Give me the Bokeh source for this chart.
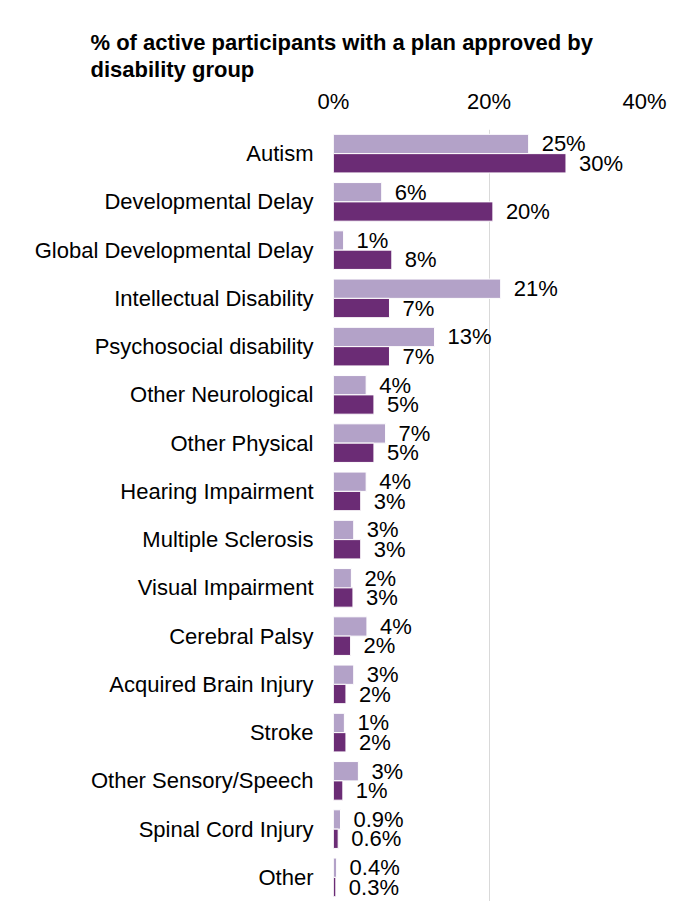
from bokeh.plotting import figure
from bokeh.models import ColumnDataSource, FactorRange, Range1d, FixedTicker, LinearAxis
from bokeh.transform import dodge
from bokeh.core.properties import value
from bokeh.embed import file_html
from bokeh.resources import INLINE

categories = [
    "Autism", "Developmental Delay", "Global Developmental Delay",
    "Intellectual Disability", "Psychosocial disability", "Other Neurological",
    "Other Physical", "Hearing Impairment", "Multiple Sclerosis",
    "Visual Impairment", "Cerebral Palsy", "Acquired Brain Injury", "Stroke",
    "Other Sensory/Speech", "Spinal Cord Injury", "Other",
]
light_values = [25.1, 6.2, 1.3, 21.5, 13.0, 4.2, 6.7, 4.2, 2.6, 2.3, 4.3, 2.6, 1.4, 3.2, 0.9, 0.4]
dark_values = [29.9, 20.5, 7.5, 7.2, 7.2, 5.2, 5.2, 3.5, 3.5, 2.5, 2.2, 1.6, 1.6, 1.2, 0.6, 0.3]
light_labels = ["25%", "6%", "1%", "21%", "13%", "4%", "7%", "4%", "3%", "2%", "4%", "3%", "1%", "3%", "0.9%", "0.4%"]
dark_labels = ["30%", "20%", "8%", "7%", "7%", "5%", "5%", "3%", "3%", "3%", "2%", "2%", "2%", "1%", "0.6%", "0.3%"]
x_ticks = [0, 20, 40]
x_tick_labels = ["0%", "20%", "40%"]
title_text = "% of active participants with a plan approved by\ndisability group"

LIGHT = "#B3A2C8"
DARK = "#6B2C75"
FONT = "Liberation Sans"

W, H = 689, 901
LEFT = 333

source = ColumnDataSource(data=dict(
    cat=categories, light=light_values, dark=dark_values,
    light_lab=light_labels, dark_lab=dark_labels,
))

p = figure(
    y_range=FactorRange(factors=categories[::-1]),
    x_range=Range1d(0, 40),
    width=W, height=H,
    output_backend="svg", toolbar_location=None,
    x_axis_location="above",
    min_border_left=LEFT, min_border_right=45,
    min_border_top=129, min_border_bottom=0,
)

p.hbar(y=dodge("cat", 0.2, range=p.y_range), right="light", left=0, height=0.4,
       source=source, fill_color=LIGHT, line_color="white", line_width=1)
p.hbar(y=dodge("cat", -0.2, range=p.y_range), right="dark", left=0, height=0.4,
       source=source, fill_color=DARK, line_color="white", line_width=1)

p.text(x="light", y=dodge("cat", 0.2, range=p.y_range), text="light_lab", source=source,
       x_offset=13, text_baseline="middle", text_align="left",
       text_font=value(FONT), text_font_size="22px", text_color="#000000")
p.text(x="dark", y=dodge("cat", -0.2, range=p.y_range), text="dark_lab", source=source,
       x_offset=13, text_baseline="middle", text_align="left",
       text_font=value(FONT), text_font_size="22px", text_color="#000000")

# title
p.title.text = title_text
p.title.align = "left"
p.title.offset = 90 - LEFT
p.title.text_font = FONT
p.title.text_font_size = "22px"
p.title.text_font_style = "bold"
p.title.text_color = "#000000"
p.title.text_line_height = 1.08
p.title.standoff = 8

# x axis (top)
xa = p.xaxis[0]
xa.ticker = FixedTicker(ticks=x_ticks)
xa.major_label_overrides = {t: l for t, l in zip(x_ticks, x_tick_labels)}
xa.axis_line_color = None
xa.major_tick_line_color = None
xa.minor_tick_line_color = None
xa.major_label_text_font = FONT
xa.major_label_text_font_size = "22px"
xa.major_label_text_color = "#000000"
xa.major_label_standoff = 10

# empty spacer axis (no ticks at all) between the tick labels and the title
spacer = LinearAxis(ticker=FixedTicker(ticks=[]), axis_line_color=None,
                    major_tick_line_color="#ffffff", minor_tick_line_color=None,
                    major_tick_in=0, major_tick_out=23, minor_tick_out=0,
                    major_label_standoff=0)
p.add_layout(spacer, "above")

# y axis
ya = p.yaxis[0]
ya.axis_line_color = None
ya.major_tick_line_color = None
ya.minor_tick_line_color = None
ya.major_label_text_font = FONT
ya.major_label_text_font_size = "22px"
ya.major_label_text_color = "#000000"
ya.major_label_standoff = 14

p.xgrid.grid_line_color = "#D9D9D9"
p.xgrid.grid_line_width = 1
p.ygrid.grid_line_color = None
p.outline_line_color = None

open("out.html", "w").write(file_html(p, INLINE))
